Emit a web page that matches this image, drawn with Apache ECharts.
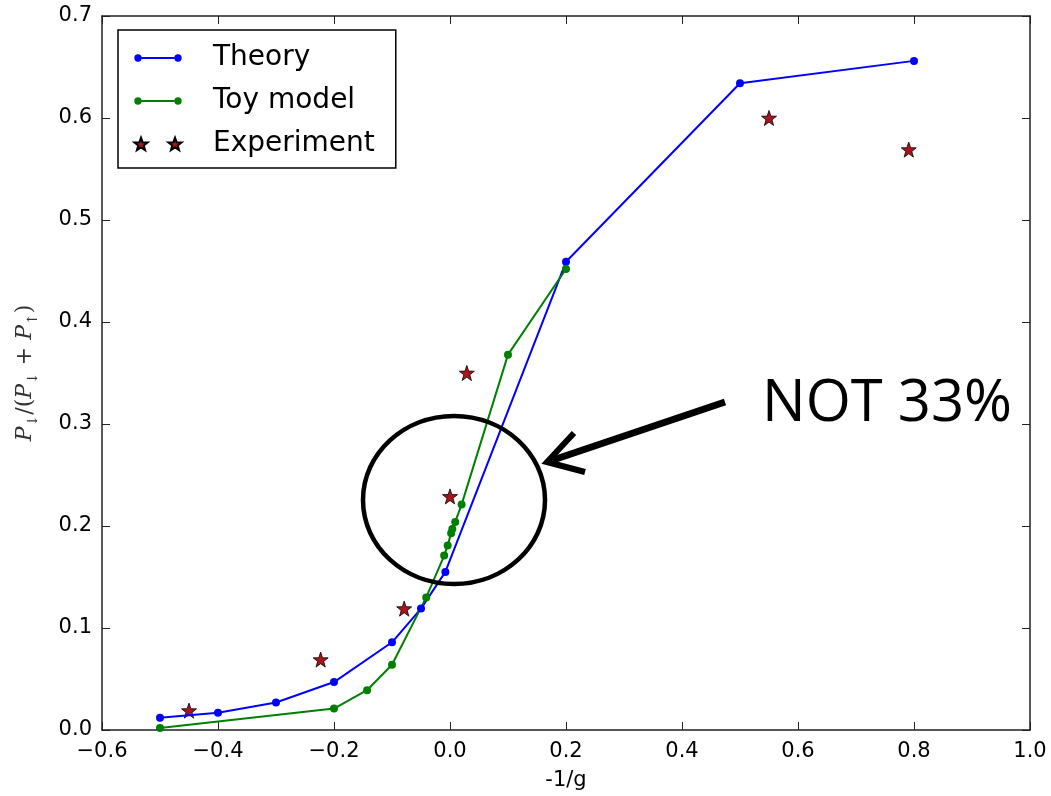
<!DOCTYPE html>
<html>
<head>
<meta charset="utf-8">
<script src="https://cdn.jsdelivr.net/npm/echarts@6/dist/echarts.min.js"></script>
<style>
  html, body { margin: 0; padding: 0; background: #fff; }
  #main { width: 1051px; height: 796px; }
</style>
</head>
<body>
<div id="main"></div>
<script>
// data
var theoryX = [-0.5, -0.4, -0.3, -0.2, -0.1, -0.05, -0.008, 0.2, 0.5, 0.8];
var theoryY = [0.012, 0.017, 0.027, 0.047, 0.086, 0.119, 0.155, 0.459, 0.634, 0.656];

var toyX = [-0.5, -0.2, -0.143, -0.1, -0.041, -0.01, -0.004, 0.002, 0.004, 0.009, 0.02, 0.1, 0.2];
var toyY = [0.002, 0.021, 0.039, 0.064, 0.130, 0.171, 0.181, 0.193, 0.197, 0.204, 0.221, 0.368, 0.452];

var expX = [-0.45, -0.223, -0.079, 0.0, 0.029, 0.55, 0.791];
var expY = [0.019, 0.069, 0.119, 0.229, 0.35, 0.6, 0.569];

var seriesNames = ['Theory', 'Toy model', 'Experiment'];
var annotation = 'NOT 33%';

function pairs(xs, ys) {
    var out = [];
    for (var i = 0; i < xs.length; i++) {
        out.push([xs[i], ys[i]]);
    }
    return out;
}

// star outline, used for marker and legend
function starPath(cx, cy, R, r) {
    var s = '';
    for (var i = 0; i < 10; i++) {
        var a = -Math.PI / 2 + i * Math.PI / 5;
        var rad = (i % 2 === 0) ? R : r;
        s += (i === 0 ? 'M' : 'L') + (cx + rad * Math.cos(a)).toFixed(2) + ',' + (cy + rad * Math.sin(a)).toFixed(2) + ' ';
    }
    return s + 'Z ';
}

function circlePath(cx, cy, r) {
    return 'M' + (cx - r) + ',' + cy + ' A' + r + ',' + r + ' 0 1,0 ' + (cx + r) + ',' + cy +
        ' A' + r + ',' + r + ' 0 1,0 ' + (cx - r) + ',' + cy + ' Z ';
}

// legend icons in a 48x14 box (corner points keep the box size)
var boxPts = 'M0,0 L0.01,0 Z M48,14 L47.99,14 Z ';
var lineIcon = 'path://' + boxPts + circlePath(4, 7, 3.7) + 'M7.6,6 L40.4,6 L40.4,8 L7.6,8 Z ' + circlePath(44, 7, 3.7);
var starIcon = 'path://' + boxPts + starPath(7, 7.6, 7, 2.9) + starPath(41, 7.6, 7, 2.9);
var starSymbol = 'path://' + starPath(50, 52, 50, 20);

function tickFmt(v) {
    return v.toFixed(1).replace('-', '\u2212');
}

var frame = { show: true, onZero: false, lineStyle: { color: '#222', width: 1.5 } };
var inTicks = { show: true, inside: true, length: 8, lineStyle: { color: '#222', width: 1 } };
var tickFont = { fontFamily: 'DejaVu Sans', fontSize: 21, color: '#000' };

var chart = echarts.init(document.getElementById('main'));

chart.setOption({
    animation: false,
    backgroundColor: '#fff',
    grid: { left: 102, right: 21, top: 16, bottom: 62 },
    xAxis: [{
        type: 'value', min: -0.6, max: 1.0, interval: 0.2,
        name: '-1/g', nameLocation: 'middle', nameGap: 40,
        nameTextStyle: { fontFamily: 'DejaVu Sans', fontSize: 21, color: '#000' },
        axisLine: frame, axisTick: inTicks, splitLine: { show: false },
        axisLabel: Object.assign({ margin: 11, formatter: tickFmt }, tickFont)
    }, {
        type: 'value', position: 'top', min: -0.6, max: 1.0, interval: 0.2,
        axisLine: frame, axisTick: inTicks, splitLine: { show: false },
        axisLabel: { show: false }
    }],
    yAxis: [{
        type: 'value', min: 0, max: 0.7, interval: 0.1,
        name: '{i|P}{s|\u2193}{n|/(}{i|P}{s|\u2193}{n| + }{i|P}{s|\u2191}{n|)}',
        nameLocation: 'middle', nameGap: 62,
        nameTextStyle: {
            color: '#333',
            rich: {
                i: { fontFamily: 'DejaVu Serif', fontStyle: 'italic', fontSize: 22, lineHeight: 30, color: '#333' },
                n: { fontFamily: 'DejaVu Serif', fontSize: 22, lineHeight: 30, color: '#333' },
                s: { fontFamily: 'DejaVu Serif', fontSize: 14, lineHeight: 14, verticalAlign: 'bottom', color: '#333' }
            }
        },
        axisLine: frame, axisTick: inTicks, splitLine: { show: false },
        axisLabel: Object.assign({ margin: 10, formatter: tickFmt }, tickFont)
    }, {
        type: 'value', position: 'right', min: 0, max: 0.7, interval: 0.1,
        axisLine: frame, axisTick: inTicks, splitLine: { show: false },
        axisLabel: { show: false }
    }],
    legend: {
        orient: 'vertical', left: 118, top: 30,
        padding: [12, 21, 8, 15], itemGap: 11,
        itemWidth: 48, itemHeight: 14,
        backgroundColor: '#fff', borderColor: '#000', borderWidth: 1.5, borderRadius: 0,
        textStyle: { fontFamily: 'DejaVu Sans', fontSize: 28, color: '#000', lineHeight: 32, padding: [0, 0, 0, 26] },
        data: [
            { name: seriesNames[0], icon: lineIcon },
            { name: seriesNames[1], icon: lineIcon },
            { name: seriesNames[2], icon: starIcon }
        ]
    },
    series: [{
        name: seriesNames[0], type: 'line',
        data: pairs(theoryX, theoryY),
        symbol: 'circle', symbolSize: 8,
        lineStyle: { color: '#0000ff', width: 2 },
        itemStyle: { color: '#0000ff', borderWidth: 0 }
    }, {
        name: seriesNames[1], type: 'line',
        data: pairs(toyX, toyY),
        symbol: 'circle', symbolSize: 8,
        lineStyle: { color: '#008000', width: 2 },
        itemStyle: { color: '#008000', borderWidth: 0 }
    }, {
        name: seriesNames[2], type: 'scatter',
        data: pairs(expX, expY),
        symbol: starSymbol, symbolSize: 15,
        itemStyle: { color: '#a8151b', borderColor: '#000', borderWidth: 0.8, opacity: 1 }
    }],
    graphic: [{
        type: 'ellipse', z: 100,
        shape: { cx: 454, cy: 500, rx: 91, ry: 84 },
        style: { fill: 'none', stroke: '#000', lineWidth: 4.5 }
    }, {
        type: 'line', z: 100,
        shape: { x1: 725, y1: 402, x2: 553, y2: 460 },
        style: { stroke: '#000', lineWidth: 7 }
    }, {
        type: 'polyline', z: 100,
        shape: { points: [[585, 472], [547, 462], [574, 433]] },
        style: { stroke: '#000', lineWidth: 6, fill: 'none', lineJoin: 'miter' }
    }, {
        type: 'text', z: 100, x: 762, y: 404,
        style: {
            text: annotation, fontFamily: 'Open Sans', fontSize: 58, fill: '#000',
            verticalAlign: 'middle', align: 'left'
        }
    }]
});
</script>
</body>
</html>
